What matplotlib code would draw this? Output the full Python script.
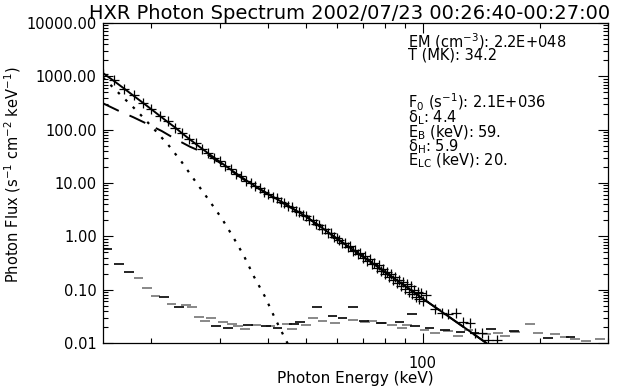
import matplotlib
matplotlib.use("Agg")
import matplotlib.pyplot as plt
from matplotlib.ticker import LogLocator, FormatStrFormatter, NullFormatter, FixedLocator

plt.rcParams['font.family'] = ['DejaVu Sans']
plt.rcParams['mathtext.default'] = 'regular'

# measured spectrum (photon energy keV, flux)
data_e = [15, 16, 17, 18, 19, 20, 21, 22, 23, 24, 25, 26, 27, 28, 29, 30,
          31, 32, 33, 34, 35, 36, 37, 38, 39, 40, 41, 42, 43, 44, 45, 46,
          47, 48, 49, 50, 51, 52, 53, 54, 55, 56, 57, 58, 59, 60, 61, 62,
          63, 64, 65, 66, 67, 68, 69, 70, 71, 72, 73, 74, 75, 76, 77, 78,
          79, 80, 81, 82, 83, 84, 85, 86, 87, 88, 89, 90, 91, 92, 93, 94,
          95, 96, 97, 98, 99, 100, 102, 107.5, 112, 116, 122, 127, 132,
          136, 142, 147, 155]
data_f = [1110, 840, 580, 440, 312, 246, 178, 143, 107, 87, 66, 55.5, 43, 37,
          29.2, 25.6, 20.6, 18.3, 14.8, 13.5, 11.1, 10.1, 8.6, 7.95, 6.8,
          6.35, 5.45, 5.2, 4.45, 4.25, 3.65, 3.5, 3.02, 2.9, 2.5, 2.42, 2.06,
          2.0, 1.70, 1.65, 1.40, 1.37, 1.15, 1.14, 0.96, 0.95, 0.86, 0.74,
          0.76, 0.63, 0.66, 0.54, 0.56, 0.46, 0.48, 0.40, 0.42, 0.34, 0.37,
          0.30, 0.32, 0.26, 0.285, 0.225, 0.245, 0.20, 0.215, 0.17, 0.195,
          0.15, 0.175, 0.135, 0.155, 0.118, 0.14, 0.105, 0.125, 0.092, 0.115,
          0.082, 0.10, 0.074, 0.092, 0.066, 0.085, 0.062, 0.079, 0.043, 0.036,
          0.0345, 0.036, 0.025, 0.024, 0.0152, 0.0152, 0.0114, 0.0114]

# total fit
fit_e = [15, 16, 17, 18, 19, 20, 21, 22, 23, 24, 26, 28, 30, 33, 36, 40, 45,
         50, 55, 60, 70, 80, 90, 100, 110, 120, 130, 140, 146]
fit_f = [1150, 820, 590, 430, 320, 240, 182, 140, 110, 85, 54, 36, 25, 15.2,
         9.9, 6.2, 3.75, 2.35, 1.45, 0.91, 0.42, 0.213, 0.117, 0.068, 0.042,
         0.027, 0.018, 0.0123, 0.0099]

# thermal component
th_e = [15.0, 16.66, 18.32, 20.22, 22.10, 23.92, 25.89, 28.02, 30.33, 32.49,
        34.62, 36.74, 39.22, 41.61, 44.15, 45.5]
th_f = [950, 447, 227, 106, 51.6, 24.8, 11.0, 4.94, 2.18, 0.96, 0.428, 0.175,
        0.0738, 0.029, 0.0122, 0.008]

# non-thermal component
nt_e = [15.0, 16.43, 17.96, 19.51, 21.25, 23.12, 25.13, 27.75, 30, 35, 40,
        50, 60, 80, 100, 120, 146]
nt_f = [312, 227, 171, 128, 94.4, 65.9, 47.9, 35.0, 24, 10.9, 6.1, 2.35, 0.91,
        0.213, 0.068, 0.027, 0.0099]

# background (two series of bin levels)
bk1_e = [15.4, 16.5, 17.5, 21.5, 23.5, 29.3, 31.5, 35.5, 39.5, 42.2, 46.5,
         48.3, 53.4, 58.5, 62.1, 66.1, 70.5, 78, 87, 93.8, 95.4, 104, 114,
         125, 136, 150, 172, 210, 240]
bk1_f = [0.58, 0.30, 0.211, 0.072, 0.048, 0.0208, 0.0188, 0.0215, 0.0205,
         0.019, 0.0225, 0.0244, 0.048, 0.0316, 0.0297, 0.048, 0.026, 0.0235,
         0.0253, 0.035, 0.0206, 0.0195, 0.0175, 0.016, 0.0156, 0.0185,
         0.0165, 0.0122, 0.0130]
bk2_e = [18.5, 19.5, 20.5, 22.5, 24.5, 25.4, 26.5, 27.5, 28.5, 30.6, 32.2,
         33.4, 34.8, 37.2, 40.5, 44.7, 46.0, 50.0, 52.1, 55.1, 59.5, 66.1, 71,
         74, 78.5, 83.2, 88.4, 91, 101, 107.5, 116, 123, 131, 146, 156, 163,
         173, 189, 198, 219, 232, 247, 263, 286]
bk2_f = [0.168, 0.109, 0.076, 0.054, 0.0515, 0.048, 0.0303, 0.0262, 0.0294,
         0.0247, 0.0229, 0.0209, 0.0183, 0.0214, 0.0205, 0.0225, 0.0183,
         0.0215, 0.0297, 0.026, 0.0235, 0.027, 0.0253, 0.0256, 0.0234, 0.0221,
         0.019, 0.0215, 0.0175, 0.0156, 0.0165, 0.0138, 0.0175, 0.0148,
         0.0151, 0.0138, 0.0163, 0.0225, 0.0151, 0.0148, 0.0127, 0.0117,
         0.0111, 0.0117]

# fit parameter text
therm_txt = ["EM (cm$^{-3}$): 2.2E+048", "T (MK): 34.2"]
nonth_txt = ["F$_0$ (s$^{-1}$): 2.1E+036", "δ$_L$: 4.4", "E$_B$ (keV): 59.",
             "δ$_H$: 5.9", "E$_{LC}$ (keV): 20."]

fig = plt.figure(figsize=(6.19, 3.88), dpi=100)
ax = fig.add_axes([103/619, 45/388, 505/619, 320/388])

hw = 1.029  # half width of a background bin (factor)
ax.hlines(bk2_f, [e/hw for e in bk2_e], [e*hw for e in bk2_e], color='#888888', lw=1.4)
ax.hlines(bk1_f, [e/hw for e in bk1_e], [e*hw for e in bk1_e], color='black', lw=1.2)

ax.plot(th_e, th_f, color='black', lw=1.6, linestyle=(0, (1.2, 3.5)))
ax.plot(nt_e, nt_f, color='black', lw=1.4, linestyle=(0, (9, 6)))
ax.plot(fit_e, fit_f, color='black', lw=1.4)
ax.plot(data_e, data_f, '+', color='black', ms=7, mew=0.9)

ax.set_xscale('log')
ax.set_yscale('log')
ax.set_xlim(15, 300)
ax.set_ylim(0.01, 10000)

ax.xaxis.set_major_locator(FixedLocator([100]))
ax.xaxis.set_major_formatter(FormatStrFormatter('%d'))
ax.xaxis.set_minor_locator(LogLocator(base=10, subs=range(2, 10)))
ax.xaxis.set_minor_formatter(NullFormatter())
ax.yaxis.set_major_locator(LogLocator(base=10))
ax.yaxis.set_major_formatter(FormatStrFormatter('%.2f'))
ax.yaxis.set_minor_locator(LogLocator(base=10, subs=range(2, 10)))
ax.yaxis.set_minor_formatter(NullFormatter())

ax.tick_params(which='both', direction='in', top=True, right=True, labelsize=10.5)
ax.tick_params(which='major', length=7.5, width=0.8)
ax.tick_params(which='minor', length=3.5, width=0.8)
ax.tick_params(axis='y', pad=4.5)
ax.tick_params(axis='x', pad=9)
for s in ax.spines.values():
    s.set_linewidth(0.9)

fig.text(349.5/619, 1 - 19/388, "HXR Photon Spectrum 2002/07/23 00:26:40-00:27:00",
         ha='center', va='baseline', fontsize=14)
fig.text(355.5/619, 1 - 383/388, "Photon Energy (keV)", ha='center', va='baseline', fontsize=11)
fig.text(13/619, 1 - 175/388, "Photon Flux (s$^{-1}$ cm$^{-2}$ keV$^{-1}$)",
         ha='center', va='center', rotation=90, fontsize=10.5)

# parameter blocks, anchored on the baseline of their last line
fig.text(408/619, 1 - 59.3/388, "\n".join(therm_txt), ha='left', va='baseline',
         fontsize=10.5, linespacing=0.65)
fig.text(408/619, 1 - 165.7/388, "\n".join(nonth_txt), ha='left', va='baseline',
         fontsize=10.5, linespacing=0.7)

fig.savefig("out.png", dpi=100)
